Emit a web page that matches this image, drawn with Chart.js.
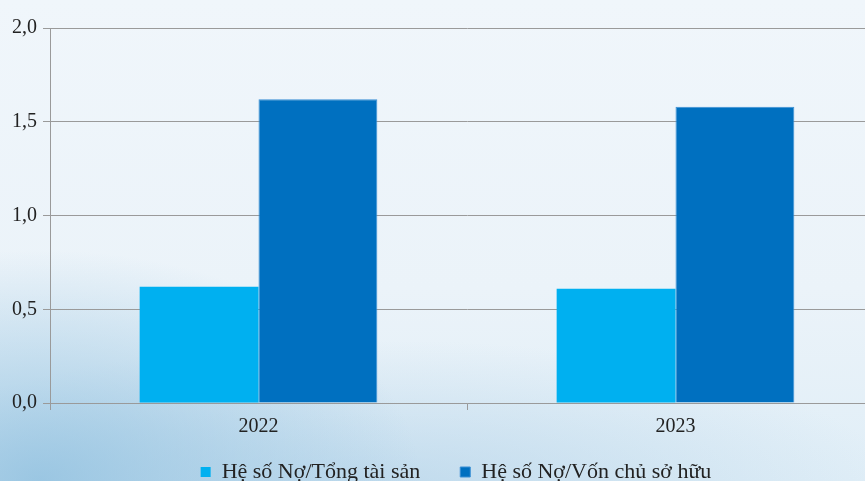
<!DOCTYPE html>
<html>
<head>
<meta charset="utf-8">
<script src="https://cdn.jsdelivr.net/npm/chart.js@4"></script>
<style>
  html, body { margin: 0; padding: 0; width: 865px; height: 481px; overflow: hidden; }
  body {
    position: relative;
    background:
      radial-gradient(ellipse 380px 230px at 40px 480px, rgba(140,190,222,0.8), rgba(140,190,222,0) 100%),
      radial-gradient(ellipse 520px 150px at 380px 490px, rgba(165,202,228,0.55), rgba(165,202,228,0) 100%),
      linear-gradient(180deg, #f0f6fb 0%, #ebf3f9 60%, #e0eef7 100%);
  }
  #wrap { position: absolute; left: 0; top: 0; width: 885px; height: 513px; }
</style>
</head>
<body>
<div id="wrap"><canvas id="chart" width="885" height="513"></canvas></div>
<script>
document.addEventListener("DOMContentLoaded", function () {
    const years = ['2022', '2023'];
    const noTongTaiSan = [0.62, 0.61];
    const noVonChuSoHuu = [1.62, 1.58];
    const seriesNames = ['Hệ số Nợ/Tổng tài sản', 'Hệ số Nợ/Vốn chủ sở hữu'];

    Chart.defaults.font.family = "'Liberation Serif', 'Times New Roman', serif";
    Chart.defaults.color = '#222';

    // move the legend up and slightly right, like the original
    const legendShift = {
        id: 'legendShift',
        afterLayout(chart) {
            const lg = chart.legend;
            lg.left += 9;
            lg.right += 9;
            lg.top -= 20;
            lg.bottom -= 20;
        }
    };

    new Chart(document.getElementById("chart"), {
        type: 'bar',
        data: {
            labels: years,
            datasets: [{
                label: seriesNames[0],
                data: noTongTaiSan,
                backgroundColor: '#00b0f0',
                borderWidth: 0
            }, {
                label: seriesNames[1],
                data: noVonChuSoHuu,
                backgroundColor: '#0070c0',
                borderColor: '#3a8fd4',
                borderWidth: 1
            }]
        },
        plugins: [legendShift],
        options: {
            responsive: false,
            animation: false,
            layout: { padding: { top: 28, left: 10, right: 1, bottom: 0 } },
            datasets: {
                bar: { categoryPercentage: 0.57, barPercentage: 1.0 }
            },
            scales: {
                x: {
                    afterFit: function (scale) { scale.height = 38; },
                    grid: { drawOnChartArea: false, drawTicks: true, tickLength: 7, color: '#9a9a9a' },
                    border: { color: '#9a9a9a' },
                    ticks: { color: '#222', font: { size: 20 }, padding: 5 }
                },
                y: {
                    min: 0,
                    max: 2,
                    afterFit: function (scale) { scale.width = 40; },
                    ticks: {
                        stepSize: 0.5,
                        color: '#222',
                        font: { size: 20 },
                        padding: 6,
                        callback: function (v) { return v.toFixed(1).replace('.', ','); }
                    },
                    grid: { color: '#9a9a9a', tickLength: 7 },
                    border: { color: '#9a9a9a' }
                }
            },
            plugins: {
                legend: {
                    position: 'bottom',
                    labels: {
                        color: '#222',
                        font: { size: 22 },
                        boxWidth: 10,
                        boxHeight: 10,
                        padding: 40
                    }
                },
                tooltip: { enabled: false }
            }
        }
    });
});
</script>
</body>
</html>
